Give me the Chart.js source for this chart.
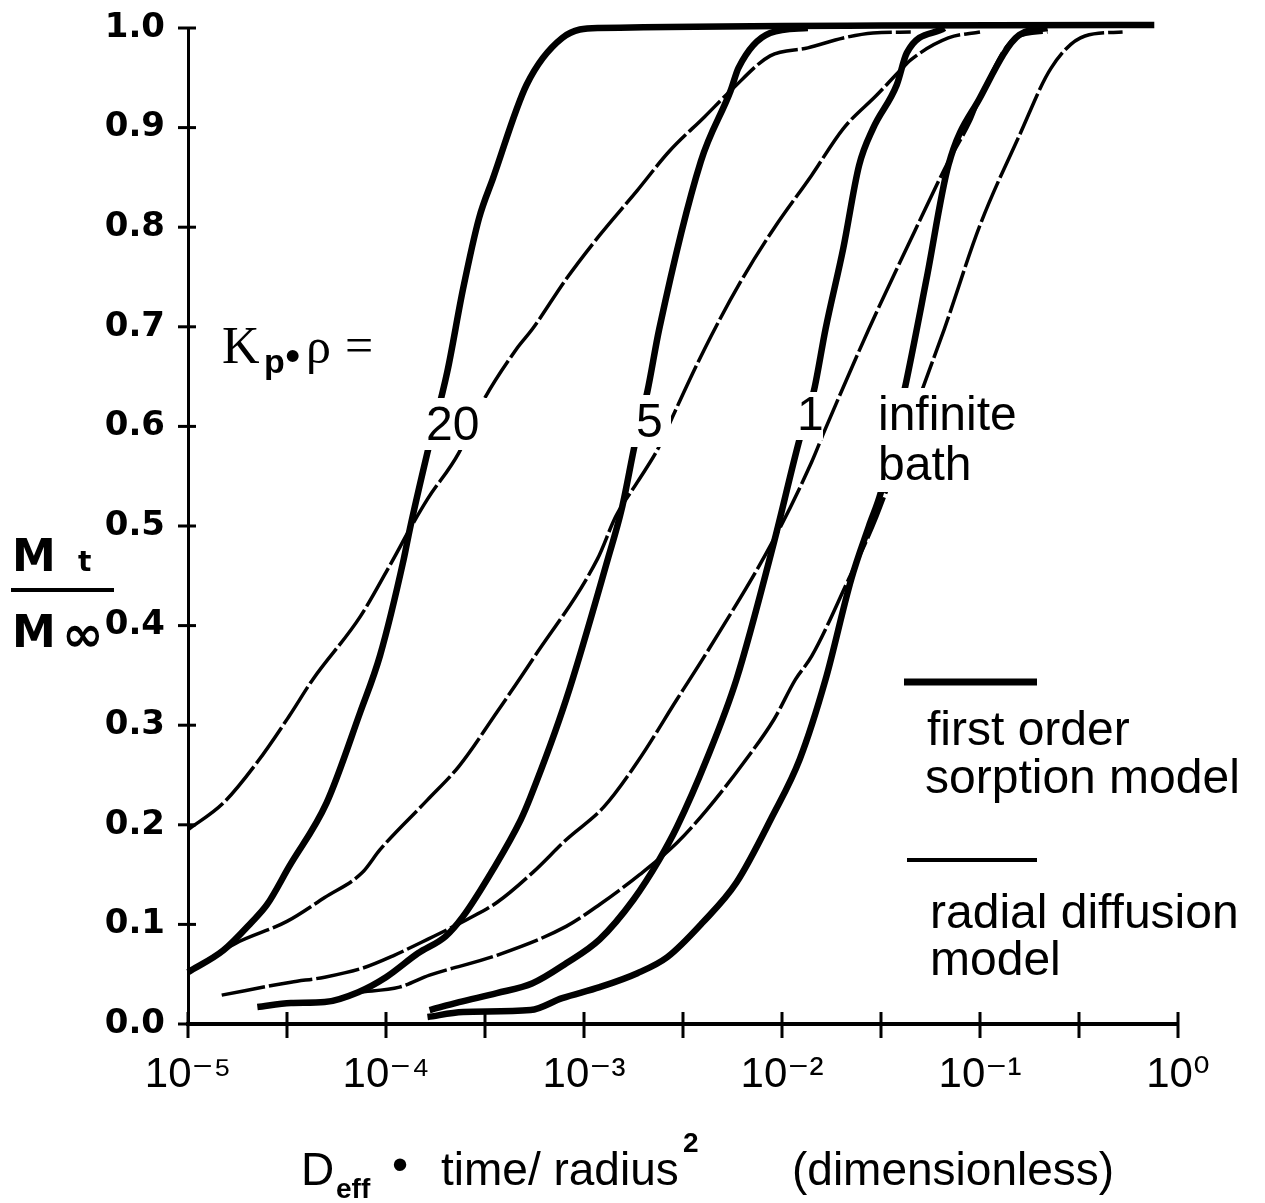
<!DOCTYPE html>
<html><head><meta charset="utf-8">
<script src="https://cdn.jsdelivr.net/npm/chart.js@4.4.1/dist/chart.umd.min.js"></script>
<style>html,body{margin:0;padding:0;background:#fff;}canvas{display:block;}</style>
</head><body>
<canvas id="c" width="1265" height="1203"></canvas>
<script>
// ---- tick values / labels ----
const xTickValues = [1e-5, 3.162e-5, 1e-4, 3.162e-4, 1e-3, 3.162e-3, 1e-2, 3.162e-2, 1e-1, 3.162e-1, 1];
const xTickLabels = ['10\u207B\u2075','','10\u207B\u2074','','10\u207B\u00B3','','10\u207B\u00B2','','10\u207B\u00B9','','10\u2070'];
const yTickValues = [0.0,0.1,0.2,0.3,0.4,0.5,0.6,0.7,0.8,0.9,1.0];

// ---- first order sorption model (thick) ----
const sorp20X = [1.0e-5,1.51e-5,2.09e-5,2.51e-5,3.24e-5,5.01e-5,7.41e-5,9.33e-5,1.23e-4,1.32e-4,1.62e-4,2.04e-4,2.45e-4,2.95e-4,3.47e-4,5.13e-4,7.76e-4,1.17e-3,0.759];
const sorp20Y = [0.052,0.074,0.102,0.120,0.158,0.222,0.313,0.370,0.467,0.497,0.574,0.655,0.738,0.809,0.849,0.943,0.990,1.0,1.003];
const sorp5X = [2.24e-5,3.31e-5,4.90e-5,7.24e-5,1.00e-4,1.45e-4,2.00e-4,2.45e-4,3.47e-4,4.79e-4,5.37e-4,8.13e-4,1.32e-3,1.55e-3,1.82e-3,2.09e-3,2.40e-3,3.89e-3,5.50e-3,6.03e-3,8.71e-3,1.35e-2];
const sorp5Y = [0.017,0.021,0.022,0.032,0.047,0.071,0.088,0.108,0.155,0.205,0.228,0.326,0.467,0.517,0.585,0.635,0.698,0.866,0.937,0.960,0.995,1.0];
const sorp1X = [1.66e-4,2.34e-4,3.63e-4,5.50e-4,8.13e-4,1.20e-3,1.78e-3,2.40e-3,2.95e-3,4.17e-3,5.89e-3,9.12e-3,1.23e-2,1.45e-2,1.66e-2,2.04e-2,2.45e-2,2.88e-2,3.80e-2,4.27e-2,6.61e-2];
const sorp1Y = [0.014,0.022,0.031,0.041,0.061,0.085,0.125,0.165,0.198,0.266,0.346,0.484,0.588,0.636,0.698,0.779,0.862,0.899,0.943,0.975,1.0];
const sorpInfX = [1.62e-4,2.45e-4,5.37e-4,7.76e-4,1.20e-3,1.86e-3,2.63e-3,3.98e-3,5.89e-3,8.91e-3,1.23e-2,1.66e-2,2.24e-2,2.75e-2,3.16e-2,4.17e-2,5.37e-2,6.92e-2,0.100,0.158,0.219];
const sorpInfY = [0.007,0.012,0.014,0.026,0.037,0.051,0.067,0.102,0.142,0.208,0.266,0.346,0.447,0.500,0.534,0.638,0.748,0.862,0.930,0.993,1.0];

// ---- radial diffusion model (thin) ----
const diff20X = [1.0e-5,1.51e-5,2.24e-5,3.24e-5,4.27e-5,7.41e-5,1.07e-4,1.32e-4,1.62e-4,2.34e-4,2.95e-4,4.57e-4,5.50e-4,8.13e-4,1.20e-3,1.86e-3,2.69e-3,4.07e-3,5.50e-3,8.71e-3,1.35e-2,2.04e-2,2.88e-2,4.47e-2];
const diff20Y = [0.195,0.222,0.263,0.309,0.346,0.409,0.464,0.497,0.527,0.574,0.618,0.678,0.698,0.748,0.792,0.837,0.876,0.911,0.937,0.972,0.980,0.990,0.995,0.996];
const diff5X = [1.0e-5,1.74e-5,3.16e-5,4.90e-5,7.59e-5,9.33e-5,1.62e-4,2.34e-4,3.63e-4,5.50e-4,1.17e-3,1.45e-3,1.86e-3,2.40e-3,2.82e-3,4.07e-3,6.17e-3,9.12e-3,1.41e-2,2.04e-2,3.02e-2,3.98e-2,4.47e-2,6.92e-2,0.100];
const diff5Y = [0.052,0.081,0.103,0.127,0.152,0.175,0.225,0.259,0.313,0.366,0.467,0.510,0.544,0.580,0.611,0.678,0.745,0.799,0.852,0.899,0.933,0.958,0.968,0.990,0.996];
const diff1X = [1.48e-5,3.31e-5,4.90e-5,7.59e-5,1.10e-4,1.62e-4,2.57e-4,3.63e-4,5.50e-4,8.13e-4,1.26e-3,1.86e-3,2.95e-3,4.17e-3,9.12e-3,1.41e-2,1.66e-2,2.75e-2,4.68e-2,6.92e-2,8.91e-2,0.100,0.151,0.219];
const diff1Y = [0.029,0.042,0.047,0.056,0.069,0.085,0.105,0.122,0.152,0.185,0.218,0.263,0.326,0.373,0.487,0.564,0.598,0.698,0.796,0.866,0.906,0.930,0.990,0.996];
const diffInfX = [7.24e-5,1.17e-4,1.66e-4,3.63e-4,8.13e-4,1.20e-3,1.91e-3,2.95e-3,4.17e-3,6.61e-3,9.12e-3,1.17e-2,1.41e-2,2.14e-2,3.02e-2,5.13e-2,6.61e-2,0.100,0.158,0.229,0.339,0.525];
const diffInfY = [0.032,0.037,0.049,0.069,0.098,0.120,0.150,0.182,0.215,0.266,0.306,0.346,0.369,0.444,0.510,0.638,0.698,0.802,0.892,0.960,0.992,0.996];

const SANS = "'Liberation Sans', Arial, 'DejaVu Sans', sans-serif";
const SERIF = "'Liberation Serif', 'Times New Roman', serif";

function series(label, X, Y, thick) {
  return {
    label,
    data: X.map((x, i) => ({x, y: Y[i]})),
    borderColor: '#000',
    borderWidth: thick ? 6.5 : 3.5,
    borderDash: thick ? [] : [44, 4],
    borderCapStyle: 'butt',
    borderJoinStyle: 'round',
    pointRadius: 0,
    fill: false,
    cubicInterpolationMode: 'monotone',
    clip: false
  };
}

const decorations = {
  id: 'decorations',
  afterDatasetsDraw(chart) {
    const ctx = chart.ctx;
    ctx.save();
    // white gaps behind curve labels
    ctx.fillStyle = '#fff';
    ctx.fillRect(418, 398, 70, 52);
    ctx.fillRect(631, 395, 40, 52);
    ctx.fillRect(795, 392, 28, 48);
    ctx.fillRect(872, 388, 150, 104);
    ctx.fillStyle = '#000';
    ctx.textBaseline = 'alphabetic';
    ctx.textAlign = 'left';
    ctx.font = '48px ' + SANS;
    ctx.fillText('20', 426, 440);
    ctx.fillText('5', 636, 437);
    ctx.fillText('1', 797, 430);
    ctx.fillText('infinite', 878, 430);
    ctx.fillText('bath', 878, 480);
    // K_p . rho =
    ctx.font = '52px ' + SERIF;
    ctx.fillText('K', 222, 363);
    ctx.font = 'bold 34px ' + SANS;
    ctx.fillText('p', 264, 373);
    ctx.font = '44px ' + SANS;
    ctx.fillText('\u2022', 285, 371);
    ctx.font = '50px ' + SERIF;
    ctx.fillText('\u03C1', 306, 363);
    ctx.fillText('=', 345, 362);
    ctx.restore();
  },
  afterDraw(chart) {
    const ctx = chart.ctx;
    const {x, y} = chart.scales;
    const ca = chart.chartArea;
    ctx.save();
    ctx.strokeStyle = '#000';
    ctx.fillStyle = '#000';
    // crossing tick marks
    ctx.lineWidth = 3;
    xTickValues.forEach(v => {
      const px = x.getPixelForValue(v);
      ctx.beginPath(); ctx.moveTo(px, ca.bottom - 12); ctx.lineTo(px, ca.bottom + 14); ctx.stroke();
    });
    yTickValues.forEach(v => {
      const py = y.getPixelForValue(v);
      ctx.beginPath(); ctx.moveTo(ca.left - 10, py); ctx.lineTo(ca.left + 8, py); ctx.stroke();
    });
    // legend
    ctx.lineWidth = 7;
    ctx.beginPath(); ctx.moveTo(904, 682); ctx.lineTo(1037, 682); ctx.stroke();
    ctx.lineWidth = 4;
    ctx.beginPath(); ctx.moveTo(907, 860); ctx.lineTo(1037, 860); ctx.stroke();
    ctx.textAlign = 'left';
    ctx.textBaseline = 'alphabetic';
    ctx.font = '48px ' + SANS;
    ctx.fillText('first order', 927, 745);
    ctx.fillText('sorption model', 925, 793);
    ctx.fillText('radial diffusion', 930, 928);
    ctx.fillText('model', 930, 975);
    // y axis title  M_t / M_inf
    ctx.font = 'bold 44px "DejaVu Sans", ' + SANS;
    ctx.fillText('M', 12, 571);
    ctx.fillText('M', 12, 647);
    ctx.font = 'bold 28px "DejaVu Sans", ' + SANS;
    ctx.fillText('t', 78, 571);
    ctx.font = 'bold 50px "DejaVu Sans", ' + SANS;
    ctx.fillText('\u221E', 62, 651);
    ctx.lineWidth = 4;
    ctx.beginPath(); ctx.moveTo(11, 590); ctx.lineTo(114, 590); ctx.stroke();
    // x axis title
    ctx.font = '46px ' + SANS;
    ctx.fillText('D', 301, 1185);
    ctx.font = 'bold 28px ' + SANS;
    ctx.fillText('eff', 336, 1198);
    ctx.font = '46px ' + SANS;
    ctx.fillText('\u2022', 392, 1180);
    ctx.fillText('time/ radius', 441, 1185);
    ctx.font = 'bold 28px ' + SANS;
    ctx.fillText('2', 683, 1152);
    ctx.font = '46px ' + SANS;
    ctx.fillText('(dimensionless)', 792, 1185);
    ctx.restore();
  }
};

new Chart(document.getElementById('c'), {
  type: 'line',
  data: {
    datasets: [
      series('radial diffusion model, Kp\u00B7\u03C1 = 20', diff20X, diff20Y, false),
      series('radial diffusion model, Kp\u00B7\u03C1 = 5', diff5X, diff5Y, false),
      series('radial diffusion model, Kp\u00B7\u03C1 = 1', diff1X, diff1Y, false),
      series('radial diffusion model, infinite bath', diffInfX, diffInfY, false),
      series('first order sorption model, Kp\u00B7\u03C1 = 20', sorp20X, sorp20Y, true),
      series('first order sorption model, Kp\u00B7\u03C1 = 5', sorp5X, sorp5Y, true),
      series('first order sorption model, Kp\u00B7\u03C1 = 1', sorp1X, sorp1Y, true),
      series('first order sorption model, infinite bath', sorpInfX, sorpInfY, true)
    ]
  },
  options: {
    responsive: false,
    animation: false,
    devicePixelRatio: 1,
    layout: {padding: {left: 0, right: 87, top: 28, bottom: 0}},
    plugins: {legend: {display: false}, tooltip: {enabled: false}, title: {display: false}},
    scales: {
      x: {
        type: 'logarithmic',
        min: 1e-5, max: 1,
        afterBuildTicks: s => { s.ticks = xTickValues.map(v => ({value: v})); },
        afterFit: s => { s.height = 179; },
        grid: {display: false, drawTicks: false},
        border: {display: true, color: '#000', width: 4},
        ticks: {
          autoSkip: false, maxRotation: 0, minRotation: 0, padding: 26, color: '#000',
          font: {family: SANS, size: 42},
          callback: (v, i) => xTickLabels[i]
        }
      },
      y: {
        min: 0, max: 1,
        afterBuildTicks: s => { s.ticks = yTickValues.map(v => ({value: v})); },
        afterFit: s => { s.width = 188; },
        grid: {display: false, drawTicks: false},
        border: {display: true, color: '#000', width: 3},
        ticks: {
          padding: 23, color: '#000',
          font: {family: "'DejaVu Sans', sans-serif", size: 34, weight: 'bold', lineHeight: 0.25},
          callback: v => Number(v).toFixed(1)
        }
      }
    }
  },
  plugins: [decorations]
});
</script>
</body></html>
